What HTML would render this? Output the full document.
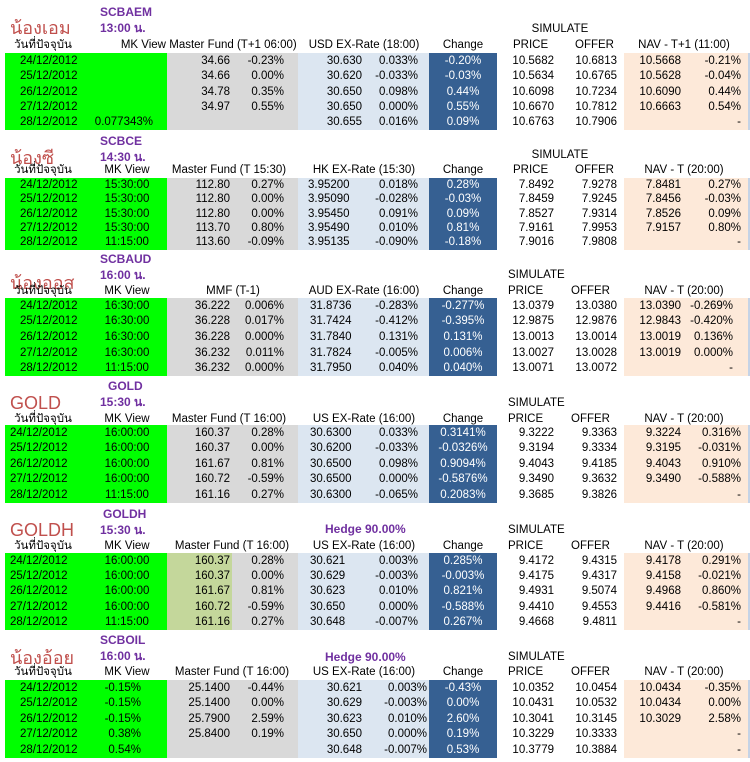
<!DOCTYPE html>
<html><head><meta charset="utf-8">
<style>
html,body{margin:0;padding:0;background:#fff;}
#root{position:relative;width:750px;height:762px;overflow:hidden;font-family:"Liberation Sans","Noto Sans CJK SC",sans-serif;font-size:11.5px;color:#000;}
.t{position:absolute;white-space:nowrap;line-height:14px;height:14px;}
.bg{position:absolute;}
.lab{font-size:18px;color:#c0504d;line-height:20px;height:20px;}
.code{font-weight:bold;color:#7030a0;font-size:12px;}
.chg{color:#fff;}
</style></head>
<body><div id="root"></div>
<script>
const dates=["24/12/2012","25/12/2012","26/12/2012","27/12/2012","28/12/2012"];
const s1mk=["","","","","0.077343%"];
const s1mp=["34.66","34.66","34.78","34.97",""];
const s1mpc=["-0.23%","0.00%","0.35%","0.55%",""];
const s1fx=["30.630","30.620","30.650","30.650","30.655"];
const s1fxc=["0.033%","-0.033%","0.098%","0.000%","0.016%"];
const s1ch=["-0.20%","-0.03%","0.44%","0.55%","0.09%"];
const s1pr=["10.5682","10.5634","10.6098","10.6670","10.6763"];
const s1of=["10.6813","10.6765","10.7234","10.7812","10.7906"];
const s1nv=["10.5668","10.5628","10.6090","10.6663",""];
const s1nc=["-0.21%","-0.04%","0.44%","0.54%","-"];
const s2mk=["15:30:00","15:30:00","15:30:00","15:30:00","11:15:00"];
const s2mp=["112.80","112.80","112.80","113.70","113.60"];
const s2mpc=["0.27%","0.00%","0.00%","0.80%","-0.09%"];
const s2fx=["3.95200","3.95090","3.95450","3.95490","3.95135"];
const s2fxc=["0.018%","-0.028%","0.091%","0.010%","-0.090%"];
const s2ch=["0.28%","-0.03%","0.09%","0.81%","-0.18%"];
const s2pr=["7.8492","7.8459","7.8527","7.9161","7.9016"];
const s2of=["7.9278","7.9245","7.9314","7.9953","7.9808"];
const s2nv=["7.8481","7.8456","7.8526","7.9157",""];
const s2nc=["0.27%","-0.03%","0.09%","0.80%","-"];
const s3mk=["16:30:00","16:30:00","16:30:00","16:30:00","11:15:00"];
const s3mp=["36.222","36.228","36.228","36.232","36.232"];
const s3mpc=["0.006%","0.017%","0.000%","0.011%","0.000%"];
const s3fx=["31.8736","31.7424","31.7840","31.7824","31.7950"];
const s3fxc=["-0.283%","-0.412%","0.131%","-0.005%","0.040%"];
const s3ch=["-0.277%","-0.395%","0.131%","0.006%","0.040%"];
const s3pr=["13.0379","12.9875","13.0013","13.0027","13.0071"];
const s3of=["13.0380","12.9876","13.0014","13.0028","13.0072"];
const s3nv=["13.0390","12.9843","13.0019","13.0019",""];
const s3nc=["-0.269%","-0.420%","0.136%","0.000%","-"];
const s4mk=["16:00:00","16:00:00","16:00:00","16:00:00","11:15:00"];
const s4mp=["160.37","160.37","161.67","160.72","161.16"];
const s4mpc=["0.28%","0.00%","0.81%","-0.59%","0.27%"];
const s4fx=["30.6300","30.6200","30.6500","30.6500","30.6300"];
const s4fxc=["0.033%","-0.033%","0.098%","0.000%","-0.065%"];
const s4ch=["0.3141%","-0.0326%","0.9094%","-0.5876%","0.2083%"];
const s4pr=["9.3222","9.3194","9.4043","9.3490","9.3685"];
const s4of=["9.3363","9.3334","9.4185","9.3632","9.3826"];
const s4nv=["9.3224","9.3195","9.4043","9.3490",""];
const s4nc=["0.316%","-0.031%","0.910%","-0.588%","-"];
const s5mk=["16:00:00","16:00:00","16:00:00","16:00:00","11:15:00"];
const s5mp=["160.37","160.37","161.67","160.72","161.16"];
const s5mpc=["0.28%","0.00%","0.81%","-0.59%","0.27%"];
const s5fx=["30.621","30.629","30.623","30.650","30.648"];
const s5fxc=["0.003%","-0.003%","0.010%","0.000%","-0.007%"];
const s5ch=["0.285%","-0.003%","0.821%","-0.588%","0.267%"];
const s5pr=["9.4172","9.4175","9.4931","9.4410","9.4668"];
const s5of=["9.4315","9.4317","9.5074","9.4553","9.4811"];
const s5nv=["9.4178","9.4158","9.4968","9.4416",""];
const s5nc=["0.291%","-0.021%","0.860%","-0.581%","-"];
const s6mk=["-0.15%","-0.15%","-0.15%","0.38%","0.54%"];
const s6mp=["25.1400","25.1400","25.7900","25.8400",""];
const s6mpc=["-0.44%","0.00%","2.59%","0.19%",""];
const s6fx=["30.621","30.629","30.623","30.650","30.648"];
const s6fxc=["0.003%","-0.003%","0.010%","0.000%","-0.007%"];
const s6ch=["-0.43%","0.00%","2.60%","0.19%","0.53%"];
const s6pr=["10.0352","10.0431","10.3041","10.3229","10.3779"];
const s6of=["10.0454","10.0532","10.3145","10.3333","10.3884"];
const s6nv=["10.0434","10.0434","10.3029","",""];
const s6nc=["-0.35%","0.00%","2.58%","-","-"];

const root=document.getElementById('root');
function T(x,y,s,al,cls,name){
  const d=document.createElement('div');
  d.className='t'+(cls?' '+cls:'');
  d.textContent=s;
  if(al==='r'){d.style.right=(750-x)+'px';}
  else if(al==='c'){d.style.left=x+'px';d.style.transform='translateX(-50%)';}
  else d.style.left=x+'px';
  d.style.top=(y-7)+'px';
  
  
  root.appendChild(d);return d;
}
function B(x,y,w,h,c,name){
  const d=document.createElement('div');d.className='bg';
  d.style.cssText=`left:${x}px;top:${y}px;width:${w}px;height:${h}px;background:${c}`;
  
  
  root.appendChild(d);
}
const secs=[
 {lab:"น้องเอม",labY:25,code:"SCBAEM",codeY:12,time:"13:00 น.",headY:45,simY:29,simX:560,simC:true,top:53,rh:15.4,dx:20,mkAl:'r',mkX:153,mpHead:"Master Fund (T+1 06:00)",mpHX:233,fxHead:"USD EX-Rate (18:00)",fxAl:'r',fxX:362,fxpX:418,prX:513,ofX:575,navHead:"NAV - T+1 (11:00)",npX:741,mkHeadAl:'r',mkHeadX:166,
  mk:s1mk,mp:s1mp,mpc:s1mpc,fx:s1fx,fxc:s1fxc,ch:s1ch,pr:s1pr,of:s1of,nv:s1nv,nc:s1nc},
 {lab:"น้องซี",labY:155,code:"SCBCE",codeY:141,time:"14:30 น.",headY:170,simY:155,simX:560,simC:true,top:178,rh:14.3,dx:20,mkAl:'c',mkX:127,mpHead:"Master Fund (T 15:30)",mpHX:229,fxHead:"HK EX-Rate (15:30)",fxAl:'l',fxX:308,fxpX:418,prX:513,ofX:575,navHead:"NAV - T (20:00)",npX:741,
  mk:s2mk,mp:s2mp,mpc:s2mpc,fx:s2fx,fxc:s2fxc,ch:s2ch,pr:s2pr,of:s2of,nv:s2nv,nc:s2nc},
 {lab:"น้องออส",labY:280,code:"SCBAUD",codeY:259,time:"16:00 น.",headY:291,simY:275,simX:508,top:298,rh:15.6,dx:20,mkAl:'c',mkX:127,mpHead:"MMF (T-1)",mpHX:233,fxHead:"AUD EX-Rate (16:00)",fxAl:'l',fxX:310,fxpX:418,prX:508,ofX:571,navHead:"NAV - T (20:00)",npX:733,
  mk:s3mk,mp:s3mp,mpc:s3mpc,fx:s3fx,fxc:s3fxc,ch:s3ch,pr:s3pr,of:s3of,nv:s3nv,nc:s3nc},
 {lab:"GOLD",labY:400,code:"GOLD",codeY:386,codeX:108,time:"15:30 น.",headY:419,simY:403,simX:508,top:425,rh:15.5,dx:10,mkAl:'c',mkX:127,mpHead:"Master Fund (T 16:00)",mpHX:229,fxHead:"US EX-Rate (16:00)",fxAl:'l',fxX:310,fxpX:418,prX:508,ofX:571,navHead:"NAV - T (20:00)",npX:741,
  mk:s4mk,mp:s4mp,mpc:s4mpc,fx:s4fx,fxc:s4fxc,ch:s4ch,pr:s4pr,of:s4of,nv:s4nv,nc:s4nc},
 {lab:"GOLDH",labY:527,code:"GOLDH",codeY:514,codeX:103,time:"15:30 น.",headY:546,simY:530,simX:508,top:553,rh:15.3,dx:10,mkAl:'c',mkX:127,mpHead:"Master Fund (T 16:00)",mpHX:232,fxHead:"US EX-Rate (16:00)",fxAl:'l',fxX:310,fxpX:418,prX:508,ofX:571,navHead:"NAV - T (20:00)",npX:741,hedge:529,olive:true,
  mk:s5mk,mp:s5mp,mpc:s5mpc,fx:s5fx,fxc:s5fxc,ch:s5ch,pr:s5pr,of:s5of,nv:s5nv,nc:s5nc},
 {lab:"น้องอ้อย",labY:655,code:"SCBOIL",codeY:640,time:"16:00 น.",headY:672,simY:657,simX:508,top:680,rh:15.5,dx:20,mkAl:'r',mkX:141,mpHead:"Master Fund (T 16:00)",mpHX:232,fxHead:"US EX-Rate (16:00)",fxAl:'r',fxX:362,fxpX:427,prX:508,ofX:571,navHead:"NAV - T (20:00)",npX:741,hedge:657,
  mk:s6mk,mp:s6mp,mpc:s6mpc,fx:s6fx,fxc:s6fxc,ch:s6ch,pr:s6pr,of:s6of,nv:s6nv,nc:s6nc}
];
secs.forEach((s,si)=>{
  const H=s.rh*5;
  B(5,s.top,162,H,'#00ff00','mk-view-block');
  B(167,s.top,131,H,'#d9d9d9','master-fund-block');
  if(s.olive)B(167,s.top,65,H,'#c4d79b','master-price-highlight');
  B(298,s.top,131,H,'#dce6f1','ex-rate-block');
  B(429,s.top,68,H,'#366092','change-block');
  B(624,s.top,124,H,'#fde9d9','nav-block');
  B(748,s.top,2,H,'#c5d3e6','edge-line');
  T(10,s.labY,s.lab,'l','lab','fund-nickname');
  T(s.codeX||100,s.codeY,s.code,'l','code','fund-code');
  T(100,s.codeY+16,s.time,'l','code','cutoff-time');
  if(s.hedge)T(325,s.hedge,"Hedge 90.00%",'l','code','hedge-ratio');
  T(s.simX,s.simY,"SIMULATE",s.simC?'c':'l','','simulate-title');
  T(43,s.headY,"วันที่ปัจจุบัน",'c','','date-header');
  if(s.mkHeadAl==='r')T(s.mkHeadX,s.headY,"MK View",'r','','mk-view-header');
  else T(127,s.headY,"MK View",'c','','mk-view-header');
  T(s.mpHX,s.headY,s.mpHead,'c','','master-fund-header');
  T(364,s.headY,s.fxHead,'c','','ex-rate-header');
  T(463,s.headY,"Change",'c','','change-header');
  T(s.prX,s.headY,"PRICE",'l','','price-header');
  T(s.ofX,s.headY,"OFFER",'l','','offer-header');
  T(684,s.headY,s.navHead,'c','','nav-header');
  for(let i=0;i<5;i++){
    const y=s.top+s.rh*i+s.rh/2;
    T(s.dx,y,dates[i],'l','','date-cell');
    T(s.mkX,y,s.mk[i],s.mkAl,'','mk-view-cell');
    T(230,y,s.mp[i],'r','','master-price-cell');
    T(284,y,s.mpc[i],'r','','master-pct-cell');
    T(s.fxX,y,s.fx[i],s.fxAl,'','ex-rate-cell');
    T(s.fxpX,y,s.fxc[i],'r','','ex-rate-pct-cell');
    T(463,y,s.ch[i],'c','chg','change-cell');
    T(554,y,s.pr[i],'r','','price-cell');
    T(617,y,s.of[i],'r','','offer-cell');
    T(681,y,s.nv[i],'r','','nav-cell');
    T(s.npX,y,s.nc[i],'r','','nav-pct-cell');
  }
});
</script>
</body></html>
